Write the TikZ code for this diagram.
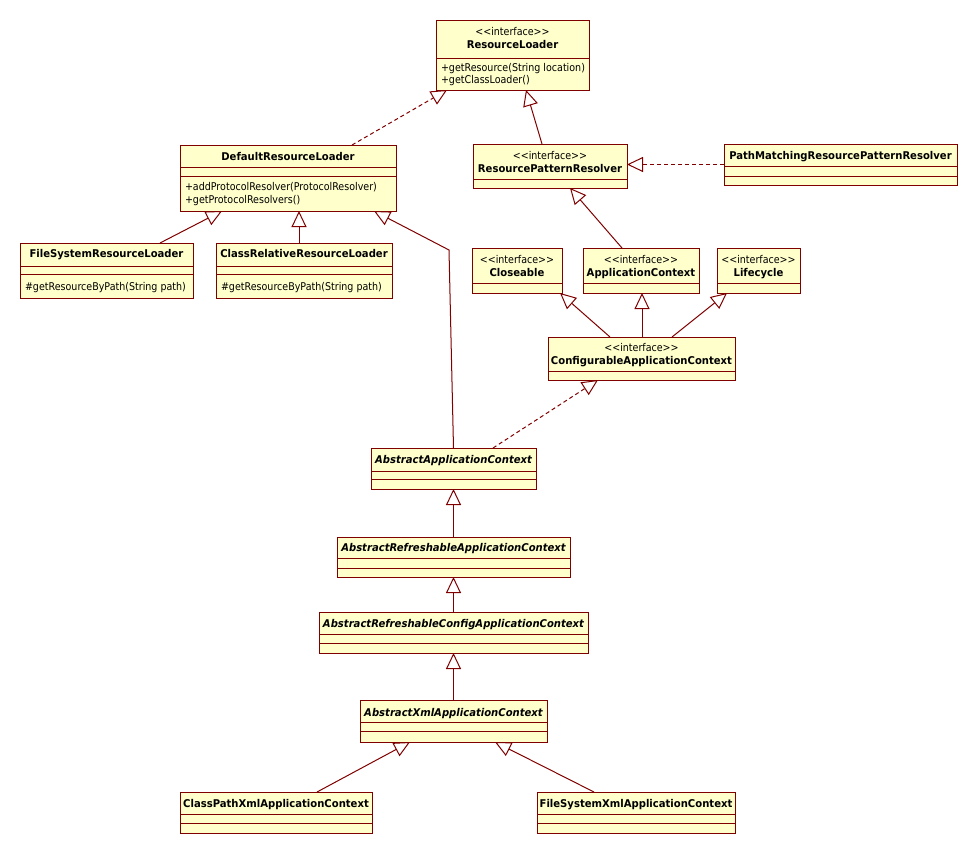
\documentclass[tikz,border=0pt]{standalone}
\usepackage{fontspec}
\newfontfamily\regfam{DejaVu Sans}[FakeStretch=0.89]
\newfontfamily\boldfam{DejaVu Sans}[FakeStretch=0.94]
\usetikzlibrary{arrows.meta}
\definecolor{umlfill}{RGB}{255,255,204}
\definecolor{umlline}{RGB}{128,0,0}
\newcommand\mkbox[5]{%
  \node[ubox, minimum width={(#4-#2)*1pt}, minimum height={(#5-#3)*1pt}] (#1) at ({(#2+#4)/2},{(#3+#5)/2}) {};}
\newcommand\hsepline[3]{\draw[uline] (#1,#3) -- (#2,#3);}
\tikzset{
  ubox/.style={draw=umlline, fill=umlfill, line width=1pt, inner sep=0pt, outer sep=0pt, rectangle},
  uline/.style={draw=umlline, line width=1pt},
  txt/.style={inner sep=0pt, outer sep=0pt, text=black, font=\fontsize{10.7pt}{12pt}\regfam},
  nm/.style={txt, anchor=base, font=\fontsize{10.7pt}{12pt}\boldfam\bfseries},
  anm/.style={txt, anchor=base, font=\fontsize{10.7pt}{12pt}\boldfam\bfseries\itshape},
  st/.style={txt, anchor=base},
  op/.style={txt, anchor=base west},
  gen/.style={draw=umlline, line width=1pt, line join=miter, -{Triangle[open, length=16pt, width=15pt, line width=1pt]}},
  real/.style={gen, dash pattern=on 4pt off 3pt}
}
\begin{document}
\begin{tikzpicture}[x=1pt, y=-1pt]
\useasboundingbox[fill=white] (0,0) rectangle (977,854);

% ResourceLoader
\mkbox{rl}{436}{20}{589}{90}
\hsepline{436}{589}{58}
\node[st] (rlst) at (512.5,35) {<<interface>>};
\node[nm] (rlnm) at (512.5,48.5) {ResourceLoader};
\node[op] (rlop1) at (441,71) {+getResource(String location)};
\node[op] (rlop2) at (441,83) {+getClassLoader()};

% DefaultResourceLoader
\mkbox{drl}{180}{145}{396}{211}
\hsepline{180}{396}{167}
\hsepline{180}{396}{176}
\node[nm] (drlnm) at (288,160) {DefaultResourceLoader};
\node[op] (drlop1) at (185,190) {+addProtocolResolver(ProtocolResolver)};
\node[op] (drlop2) at (185,203) {+getProtocolResolvers()};

% FileSystemResourceLoader
\mkbox{fsrl}{20}{243}{193}{298}
\hsepline{20}{193}{266}
\hsepline{20}{193}{274}
\node[nm] (fsrlnm) at (106.5,257.5) {FileSystemResourceLoader};
\node[op] (fsrlop) at (25,290) {\#getResourceByPath(String path)};

% ClassRelativeResourceLoader
\mkbox{crrl}{216}{243}{392}{298}
\hsepline{216}{392}{266}
\hsepline{216}{392}{274}
\node[nm] (crrlnm) at (304,257.5) {ClassRelativeResourceLoader};
\node[op] (crrlop) at (221,290) {\#getResourceByPath(String path)};

% ResourcePatternResolver
\mkbox{rpr}{473}{144}{627}{188}
\hsepline{473}{627}{179}
\node[st] (rprst) at (550,159) {<<interface>>};
\node[nm] (rprnm) at (550,172) {ResourcePatternResolver};

% PathMatchingResourcePatternResolver
\mkbox{pm}{724}{144}{957}{185}
\hsepline{724}{957}{166}
\hsepline{724}{957}{176}
\node[nm] (pmnm) at (840.5,159) {PathMatchingResourcePatternResolver};

% Closeable
\mkbox{cl}{472}{248}{562}{293}
\hsepline{472}{562}{283}
\node[st] (clst) at (517,263) {<<interface>>};
\node[nm] (clnm) at (517,276) {Closeable};

% ApplicationContext
\mkbox{ac}{583}{248}{699}{293}
\hsepline{583}{699}{283}
\node[st] (acst) at (641,263) {<<interface>>};
\node[nm] (acnm) at (641,276) {ApplicationContext};

% Lifecycle
\mkbox{lc}{717}{248}{800}{293}
\hsepline{717}{800}{283}
\node[st] (lcst) at (758.5,263) {<<interface>>};
\node[nm] (lcnm) at (758.5,276) {Lifecycle};

% ConfigurableApplicationContext
\mkbox{cac}{548}{337}{735}{380}
\hsepline{548}{735}{371}
\node[st] (cacst) at (641.5,351) {<<interface>>};
\node[nm] (cacnm) at (641.5,364) {ConfigurableApplicationContext};

% AbstractApplicationContext
\mkbox{aac}{371}{448}{536}{489}
\hsepline{371}{536}{471}
\hsepline{371}{536}{479}
\node[anm] (aacnm) at (453.5,463) {AbstractApplicationContext};

% AbstractRefreshableApplicationContext
\mkbox{arac}{337}{537}{570}{577}
\hsepline{337}{570}{558}
\hsepline{337}{570}{568}
\node[anm] (aracnm) at (453.5,551) {AbstractRefreshableApplicationContext};

% AbstractRefreshableConfigApplicationContext
\mkbox{arcac}{319}{612}{588}{653}
\hsepline{319}{588}{634}
\hsepline{319}{588}{643}
\node[anm] (arcacnm) at (453.5,627) {AbstractRefreshableConfigApplicationContext};

% AbstractXmlApplicationContext
\mkbox{axac}{360}{700}{547}{742}
\hsepline{360}{547}{722}
\hsepline{360}{547}{731}
\node[anm] (axacnm) at (453.5,716) {AbstractXmlApplicationContext};

% ClassPathXmlApplicationContext
\mkbox{cpx}{180}{792}{372}{833}
\hsepline{180}{372}{814}
\hsepline{180}{372}{823}
\node[nm] (cpxnm) at (276,807) {ClassPathXmlApplicationContext};

% FileSystemXmlApplicationContext
\mkbox{fsx}{537}{792}{735}{833}
\hsepline{537}{735}{814}
\hsepline{537}{735}{823}
\node[nm] (fsxnm) at (636,807) {FileSystemXmlApplicationContext};

% Connectors
\draw[real] ([xshift=172pt]drl.north west) -- ([xshift=11pt]rl.south west);
\draw[gen] ([xshift=69pt]rpr.north west) -- ([xshift=90pt]rl.south west);
\draw[real] (pm.west) -- (pm.west -| rpr.east);
\draw[gen] ([xshift=39pt]ac.north west) -- ([xshift=97pt]rpr.south west);
\draw[gen] ([xshift=140pt]fsrl.north west) -- ([xshift=42pt]drl.south west);
\draw[gen] ([xshift=83pt]crrl.north west) -- ([xshift=119pt]drl.south west);
\coordinate (bend) at (449,250);
\draw[gen] (aac.north) -- (bend) -- ([xshift=194pt]drl.south west);
\draw[real] ([xshift=122pt]aac.north west) -- ([xshift=50pt]cac.south west);
\draw[gen] ([xshift=62pt]cac.north west) -- ([xshift=88pt]cl.south west);
\draw[gen] ([xshift=94pt]cac.north west) -- ([xshift=59pt]ac.south west);
\draw[gen] ([xshift=124pt]cac.north west) -- ([xshift=10pt]lc.south west);
\draw[gen] (arac.north) -- (aac.south);
\draw[gen] (arcac.north) -- (arac.south);
\draw[gen] (axac.north) -- (arcac.south);
\draw[gen] ([xshift=137pt]cpx.north west) -- ([xshift=50pt]axac.south west);
\draw[gen] ([xshift=57pt]fsx.north west) -- ([xshift=135pt]axac.south west);
\end{tikzpicture}
\end{document}
